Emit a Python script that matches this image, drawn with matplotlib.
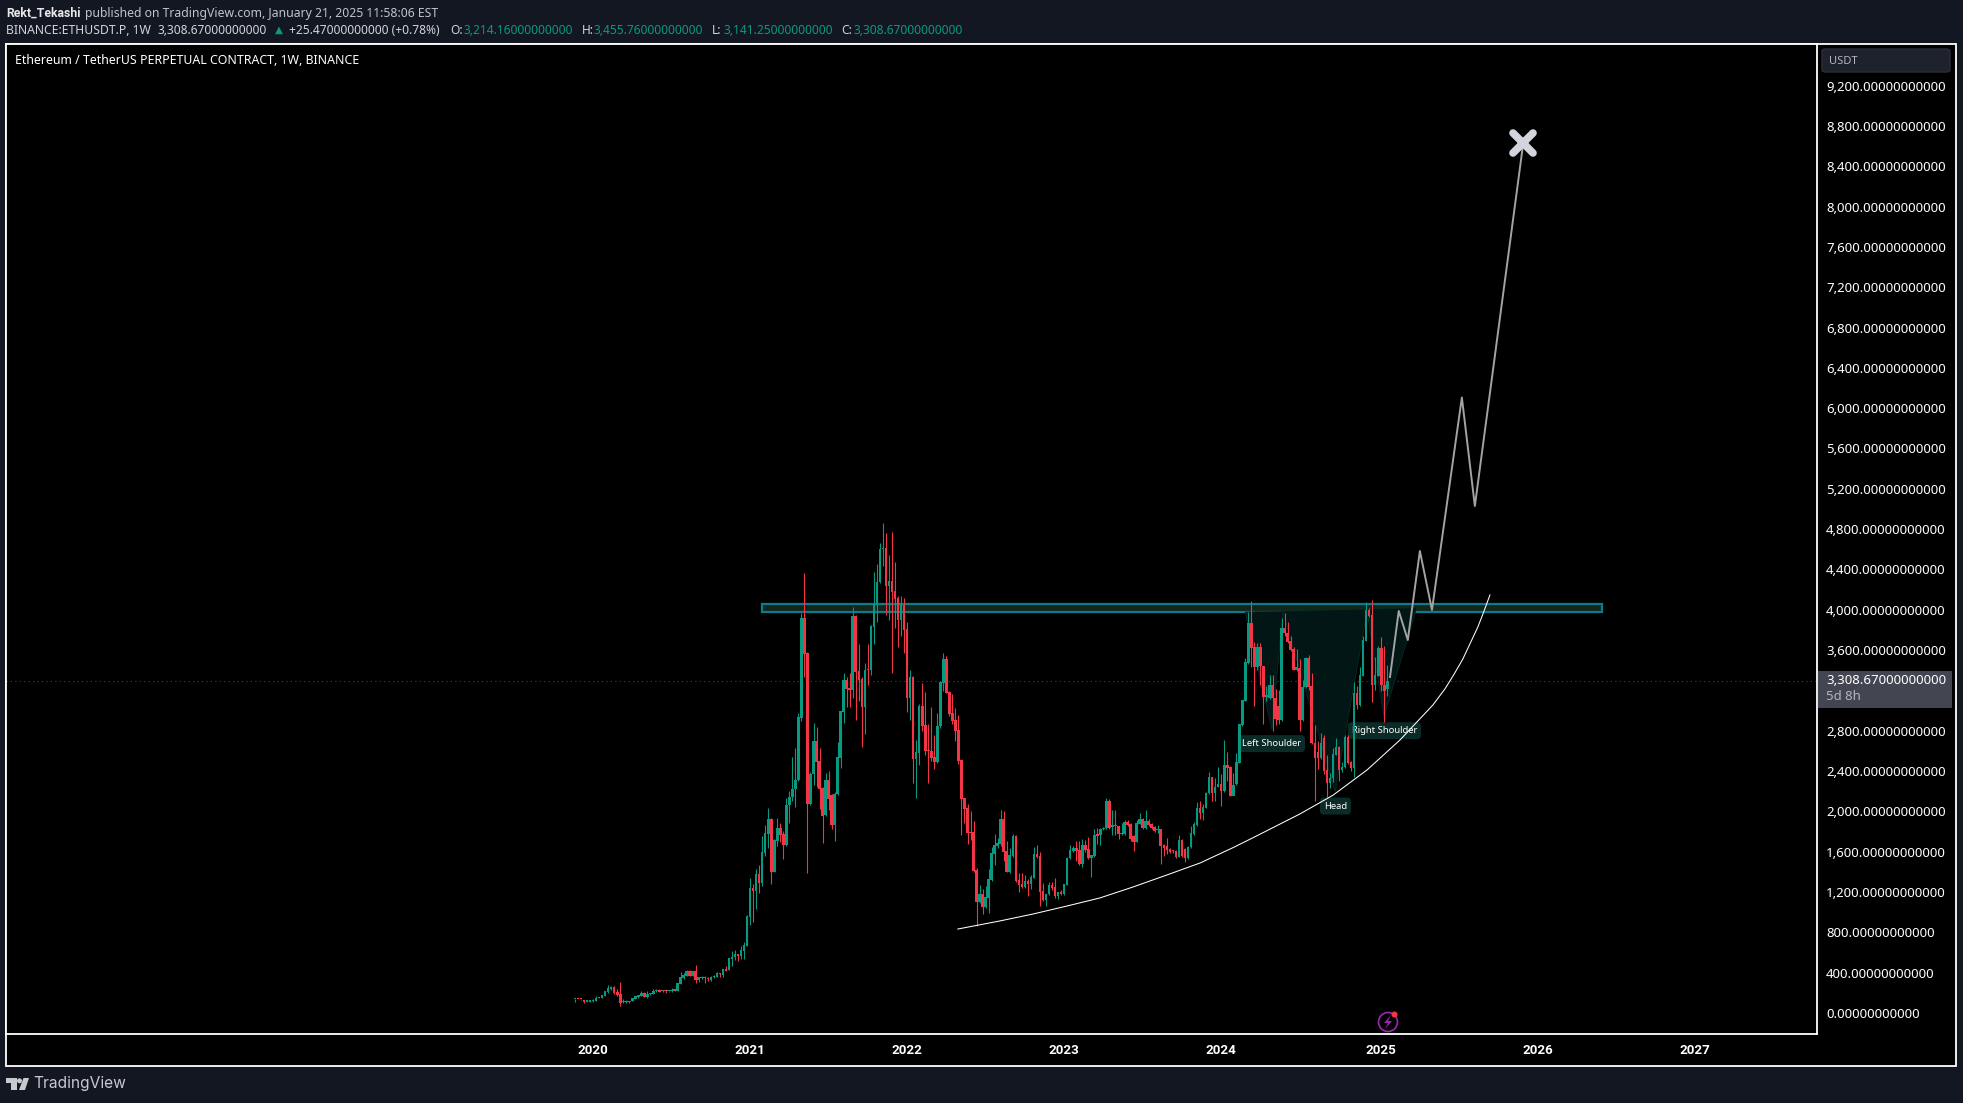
import numpy as np
import matplotlib
matplotlib.use("Agg")
import matplotlib.pyplot as plt
from matplotlib.markers import MarkerStyle
from matplotlib.patches import Rectangle, FancyBboxPatch, Ellipse, Polygon

W, H = 1963, 1103
BG = "#131722"
UP = "#089981"
DOWN = "#f23645"
FONT = ["Noto Sans", "DejaVu Sans"]
FONT_BOLD = ["Roboto", "DejaVu Sans"]

# weekly candles, values
opens = [135, 136, 135, 128, 112, 113, 115, 118, 150, 152, 171, 205, 237, 257, 211, 188, 105, 106, 105, 118,
         142, 155, 168, 198, 158, 190, 188, 218, 231, 215, 225, 214, 214, 228, 218, 287, 347, 370, 416, 370,
         416, 327, 350, 352, 347, 327, 355, 360, 396, 376, 433, 429, 540, 555, 585, 568, 618, 668, 955, 1240,
         1210, 1379, 1293, 1587, 1776, 1924, 1402, 1706, 1835, 1776, 1666, 2063, 2143, 2222, 2311, 2926, 3918, 3571, 2073, 2371,
         2698, 2500, 2232, 1960, 2311, 2162, 1865, 2172, 2530, 2986, 3303, 3224, 3204, 3938, 3389, 3313, 3036, 3403, 3400, 3829,
         4047, 4276, 4603, 4613, 4236, 4286, 4186, 4117, 3899, 4047, 3806, 3125, 3333, 2520, 2579, 3046, 2857, 2609, 2599, 2540,
         2490, 2847, 3274, 3512, 3184, 2976, 2907, 2807, 2510, 2133, 2034, 1796, 1796, 1419, 1101, 1180, 1051, 1141, 1319, 1577,
         1657, 1676, 1924, 1607, 1399, 1557, 1756, 1319, 1280, 1250, 1309, 1280, 1339, 1577, 1558, 1210, 1121, 1177, 1267, 1247,
         1161, 1200, 1181, 1270, 1533, 1610, 1637, 1617, 1478, 1667, 1627, 1538, 1557, 1766, 1766, 1825, 1835, 2107, 1848, 1852,
         1855, 1776, 1776, 1890, 1875, 1760, 1700, 1875, 1921, 1835, 1905, 1875, 1848, 1815, 1825, 1670, 1657, 1624, 1610, 1610,
         1551, 1716, 1630, 1538, 1643, 1776, 1868, 2037, 1987, 2034, 2179, 2338, 2179, 2245, 2272, 2199, 2460, 2444, 2153, 2275,
         2484, 2857, 3099, 3469, 3866, 3628, 3429, 3628, 3443, 3138, 3122, 3257, 3122, 3046, 2907, 3816, 3773, 3694, 3611, 3400,
         3425, 2907, 3231, 3519, 3244, 2682, 2592, 2533, 2731, 2411, 2278, 2335, 2560, 2640, 2411, 2444, 2742, 2494, 2428, 3172,
         3056, 3343, 3694, 3998, 3949, 3254, 3343, 3618, 3254, 3214]
highs = [138, 137, 136, 130, 128, 128, 138, 168, 158, 176, 220, 277, 267, 267, 234, 307, 138, 128, 120, 150,
         170, 180, 218, 205, 215, 200, 240, 235, 240, 225, 240, 222, 245, 232, 300, 406, 400, 430, 430, 420,
         476, 345, 372, 366, 360, 365, 375, 405, 400, 440, 470, 545, 615, 625, 590, 660, 704, 975, 1339, 1279,
         1428, 1468, 1756, 1865, 2033, 1930, 1726, 1934, 1885, 1805, 2133, 2202, 2540, 2629, 2973, 3971, 4365, 3580, 2390, 2877,
         2837, 2629, 2240, 2381, 2401, 2170, 2190, 2688, 3000, 3370, 3336, 3370, 4028, 3950, 3660, 3336, 3469, 3660, 3850, 4375,
         4454, 4663, 4861, 4762, 4544, 4772, 4474, 4137, 4137, 4117, 3879, 3403, 3340, 2708, 3065, 3274, 3184, 2867, 3036, 2758,
         2976, 3290, 3571, 3542, 3195, 3165, 3025, 2956, 2520, 2135, 2073, 2004, 1905, 1438, 1270, 1230, 1260, 1428, 1647, 1776,
         1736, 2014, 2004, 1706, 1637, 1776, 1766, 1385, 1389, 1369, 1329, 1369, 1647, 1667, 1600, 1286, 1180, 1300, 1300, 1339,
         1205, 1220, 1280, 1545, 1667, 1657, 1706, 1706, 1723, 1716, 1750, 1570, 1830, 1840, 1835, 1845, 2137, 2120, 2014, 2014,
         1860, 1880, 1915, 1912, 1880, 1770, 1915, 1980, 1930, 2014, 1921, 1880, 1860, 1865, 1830, 1680, 1733, 1640, 1615, 1615,
         1766, 1725, 1640, 1655, 1860, 1898, 2093, 2107, 2075, 2196, 2391, 2345, 2328, 2437, 2371, 2708, 2592, 2450, 2378, 2583,
         2870, 3105, 3519, 3981, 4091, 3684, 3674, 3668, 3445, 3240, 3354, 3354, 3211, 3205, 3920, 3965, 3882, 3740, 3630, 3610,
         3509, 3304, 3530, 3552, 3370, 2857, 2700, 2775, 2758, 2560, 2380, 2625, 2725, 2650, 2490, 2760, 2758, 2500, 3280, 3240,
         3430, 3740, 4081, 4020, 4097, 3535, 3640, 3734, 3640, 3455]
lows = [112, 134, 133, 99, 108, 110, 110, 115, 145, 150, 168, 200, 225, 190, 170, 69, 100, 100, 100, 115,
        135, 150, 165, 155, 150, 180, 185, 210, 205, 208, 200, 208, 210, 220, 215, 285, 340, 365, 365, 365,
        300, 310, 335, 300, 320, 320, 345, 355, 360, 360, 415, 425, 470, 530, 515, 540, 540, 665, 873, 906,
        1032, 1193, 1263, 1561, 1633, 1280, 1395, 1660, 1700, 1527, 1660, 1888, 2100, 2047, 2300, 2900, 3336, 1389, 2063, 2262,
        2238, 2024, 1686, 1950, 2014, 1825, 1706, 2160, 2430, 2874, 3040, 3040, 3121, 2907, 3095, 2639, 2768, 3254, 3353, 3660,
        3875, 4270, 4434, 3948, 3899, 3373, 3819, 3631, 3740, 3571, 2986, 2907, 2282, 2133, 2460, 2800, 2559, 2282, 2500, 2420,
        2480, 2827, 3194, 3170, 2950, 2867, 2698, 2470, 1766, 1885, 1676, 1716, 1400, 863, 1095, 982, 1040, 992, 1310, 1468,
        1640, 1660, 1508, 1395, 1390, 1550, 1300, 1200, 1240, 1240, 1160, 1230, 1335, 1540, 1062, 1115, 1065, 1170, 1225, 1141,
        1128, 1175, 1175, 1265, 1530, 1600, 1511, 1468, 1445, 1600, 1530, 1350, 1550, 1680, 1667, 1815, 1830, 1825, 1765, 1765,
        1726, 1770, 1770, 1855, 1710, 1607, 1695, 1870, 1830, 1830, 1860, 1825, 1795, 1790, 1478, 1558, 1580, 1590, 1590, 1540,
        1545, 1550, 1500, 1530, 1640, 1770, 1860, 1928, 1915, 2030, 2175, 2103, 2100, 2240, 2054, 2190, 2300, 2150, 2229, 2262,
        2480, 2850, 3095, 3460, 3429, 3046, 3400, 3250, 2867, 3100, 3110, 2798, 2857, 2870, 2900, 3740, 3670, 3590, 3400, 3395,
        2801, 2895, 3225, 3200, 2668, 2107, 2420, 2520, 2375, 2146, 2230, 2290, 2555, 2300, 2390, 2430, 2470, 2400, 2340, 3020,
        3050, 3340, 3690, 3930, 3089, 3200, 3340, 3190, 2890, 3141]
closes = [136, 135, 134, 112, 115, 118, 122, 145, 155, 175, 218, 247, 257, 198, 178, 102, 108, 110, 122, 145,
          168, 178, 198, 158, 188, 192, 218, 225, 211, 220, 221, 216, 228, 222, 297, 357, 376, 416, 370, 416,
          327, 353, 354, 347, 340, 356, 360, 396, 388, 433, 420, 545, 560, 585, 565, 625, 674, 962, 1240, 1210,
          1379, 1293, 1597, 1786, 1924, 1402, 1716, 1835, 1766, 1666, 2063, 2143, 2222, 2311, 2936, 3918, 3561, 2073, 2371, 2698,
          2493, 2222, 1954, 2311, 2123, 1865, 2172, 2540, 2996, 3303, 3214, 3204, 3938, 3383, 3303, 3036, 3403, 3400, 3839, 4057,
          4276, 4603, 4613, 4236, 4286, 4177, 4107, 3899, 4064, 3800, 3125, 3333, 2520, 2589, 3046, 2847, 2599, 2599, 2530, 2490,
          2847, 3284, 3512, 3175, 2966, 2897, 2798, 2500, 2123, 2024, 1786, 1786, 1409, 1101, 1180, 1051, 1151, 1329, 1587, 1667,
          1686, 1924, 1597, 1399, 1567, 1756, 1309, 1270, 1250, 1309, 1280, 1349, 1577, 1548, 1204, 1121, 1177, 1267, 1237, 1161,
          1200, 1181, 1277, 1538, 1617, 1637, 1610, 1478, 1667, 1617, 1538, 1564, 1766, 1760, 1825, 1832, 2107, 1832, 1852, 1855,
          1776, 1780, 1890, 1865, 1726, 1700, 1882, 1921, 1835, 1905, 1868, 1832, 1802, 1825, 1657, 1637, 1617, 1597, 1608, 1551,
          1716, 1558, 1538, 1650, 1782, 1875, 2037, 1987, 2040, 2180, 2341, 2179, 2245, 2272, 2199, 2460, 2430, 2153, 2262, 2493,
          2867, 3105, 3479, 3866, 3621, 3429, 3628, 3443, 3138, 3140, 3257, 3122, 2913, 2907, 3816, 3767, 3684, 3601, 3403, 3430,
          2907, 3238, 3519, 3238, 2682, 2533, 2533, 2682, 2404, 2278, 2330, 2570, 2640, 2411, 2444, 2742, 2484, 2428, 3172, 3056,
          3353, 3700, 3998, 3942, 3254, 3353, 3618, 3254, 3198, 3290]

# annotations, in (week index, price)
zone_weeks = [62, 340]
zone_prices = [3978, 4057]
arc_weeks = [126.8, 140.7, 151.7, 162.9, 173.8, 184.8, 196.0, 207.0, 217.9, 224.5, 240.1, 251.0, 262.3, 273.2, 284.1, 288.1, 291.1, 294.0, 299.0, 300.7, 303.0]
arc_prices = [833, 913, 982, 1061, 1141, 1250, 1369, 1488, 1640, 1738, 1975, 2160, 2411, 2708, 3055, 3215, 3360, 3510, 3830, 3960, 4147]
hs_weeks = [221.9, 230.8, 234.4, 251.7, 262.3, 267.9, 278.8]
hs_prices = [3978, 2810, 3978, 2195, 3978, 2940, 4020]
path_weeks = [269.9, 272.8, 275.8, 279.8, 283.8, 293.7, 298.0, 313.9]
path_prices = [3333, 3988, 3700, 4583, 3998, 6106, 5029, 8601]
target_week = 313.9
target_price = 8630
labels = ["Left Shoulder", "Head", "Right Shoulder"]
label_weeks = [220.9, 248.0, 257.2]
label_prices = [2672, 2053, 2800]
last_price = 3290

year_labels = ["2020", "2021", "2022", "2023", "2024", "2025", "2026", "2027"]
year_weeks = [6, 58, 110, 162, 214, 267, 319, 371]
price_ticks = [0, 400, 800, 1200, 1600, 2000, 2400, 2800, 3600, 4000, 4400, 4800, 5200,
               5600, 6000, 6400, 6800, 7200, 7600, 8000, 8400, 8800, 9200]


def fx(px):
    return px / W


def fy(py):
    return 1 - py / H


def fig_text(px, py, s, color="#d1d4dc", size=8.8, family=FONT, **kw):
    fig.text(fx(px), fy(py), s, color=color, fontsize=size, family=family, va="center", **kw)


def px_box(x0, y0, x1, y1, **kw):
    fig.add_artist(Rectangle((fx(x0), fy(y1)), (x1 - x0) / W, (y1 - y0) / H,
                             transform=fig.transFigure, **kw))


def px_poly(pts, **kw):
    fig.add_artist(Polygon([(fx(a), fy(b)) for a, b in pts], closed=True,
                           transform=fig.transFigure, edgecolor="none", **kw))


def px_circle(cx, cy, r, **kw):
    fig.add_artist(Ellipse((fx(cx), fy(cy)), 2 * r / W, 2 * r / H, transform=fig.transFigure, **kw))


fig = plt.figure(figsize=(W / 100, H / 100), dpi=100, facecolor=BG)

px_box(6, 44, 1956, 1066, facecolor="black", edgecolor="white", linewidth=1.3, zorder=0)

ax = fig.add_axes([fx(6), fy(1034), (1817 - 6) / W, (1034 - 44) / H], facecolor="black")
ax.set_xlim(-188.4, 411.3)
ax.set_ylim((1013 - 1034) * 9.92, (1013 - 44) * 9.92)
for s in ax.spines.values():
    s.set_color("white")
    s.set_linewidth(1.3)

ax.set_xticks(year_weeks)
ax.set_xticklabels(year_labels, color="white", fontsize=9.6, family=FONT_BOLD, fontweight="bold")
ax.set_yticks(price_ticks)
ax.set_yticklabels([f"{p:,.11f}" for p in price_ticks], color="white", fontsize=9.5, family=FONT)
ax.yaxis.tick_right()
ax.tick_params(axis="both", length=0)
ax.tick_params(axis="x", pad=7)
ax.tick_params(axis="y", pad=6.5)

# last price dotted line
ax.axhline(last_price, color="#3a4a46", linewidth=0.8, linestyle=(0, (1, 3)), zorder=1)

# resistance zone
ax.add_patch(Rectangle((zone_weeks[0], zone_prices[0]), zone_weeks[1] - zone_weeks[0],
                       zone_prices[1] - zone_prices[0], facecolor="#12261a", edgecolor="#0a7c8c",
                       linewidth=1.6, zorder=2))
# pattern shading
ax.add_patch(Polygon(list(zip(hs_weeks, hs_prices)), closed=True, facecolor="#021715",
                     edgecolor="#05302b", linewidth=0.5, zorder=2))

# pattern labels go under the candles
for text, wk, pr in zip(labels, label_weeks, label_prices):
    ax.text(wk, pr, text, color="white", fontsize=6.8, family=FONT, ha="left", va="center", zorder=3,
            bbox=dict(boxstyle="round,pad=0.42", facecolor="#0a2b28", edgecolor="none"))

# candles
weeks = np.arange(len(closes))
o, h, l, c = map(np.array, (opens, highs, lows, closes))
colors = np.where(c >= o, UP, DOWN)
ax.vlines(weeks, l, h, colors=colors, linewidth=0.8, zorder=4)
body = np.abs(c - o)
body = np.where(body < 12, 12, body)
ax.bar(weeks, body, bottom=np.minimum(o, c), width=0.86, color=colors, linewidth=0, zorder=5)

# arc and forecast path
ax.plot(arc_weeks, arc_prices, color="white", linewidth=0.75, zorder=6)
ax.plot(path_weeks, path_prices, color="#a3a3a3", linewidth=1.4, zorder=6)
ax.plot(target_week, target_price, marker=MarkerStyle("x", capstyle="round"), markersize=15,
        markeredgewidth=5.5, color="#d1d4dc", zorder=7)

# price scale extras
fig.add_artist(FancyBboxPatch((fx(1822), fy(72)), (1950 - 1822) / W, (72 - 49) / H,
                              boxstyle="round,pad=0,rounding_size=0.002", transform=fig.transFigure,
                              facecolor="#1e222d", edgecolor="#2a2e39", linewidth=1, zorder=5))
fig_text(1829, 61, "USDT", color="#b2b5be", size=8, zorder=6)
px_box(1818, 671, 1952, 708, facecolor="#434651", edgecolor="none", zorder=5)
fig_text(1826, 681, "3,308.67000000000", color="white", size=9.5, zorder=6)
fig_text(1826, 697, "5d 8h", color="#b2b5be", size=9.5, zorder=6)

# header
fig_text(6, 13, "Rekt_Tekashi", color="#e8e8ea", family=FONT_BOLD, fontweight="bold")
fig_text(85, 13, "published on TradingView.com, January 21, 2025 11:58:06 EST", color="#c0c3cb")
fig_text(6, 30, "BINANCE:ETHUSDT.P, 1W")
fig_text(158, 30, "3,308.67000000000", size=8.6)
fig_text(275, 30, "▲", color=UP, size=7.5)
fig_text(289, 30, "+25.47000000000 (+0.78%)", size=8.6)
for lab, lx, val, vx in [("O:", 450, "3,214.16000000000", 464), ("H:", 582, "3,455.76000000000", 594),
                         ("L:", 712, "3,141.25000000000", 723), ("C:", 841, "3,308.67000000000", 853)]:
    fig_text(lx, 30, lab, size=8.6)
    fig_text(vx, 30, val, color=UP, size=8.6)
fig_text(15, 60.5, "Ethereum / TetherUS PERPETUAL CONTRACT, 1W, BINANCE", color="white", size=8.9)

# TradingView logo
logo = "#c8cad0"
px_poly([(6, 1078), (16.7, 1078), (16.7, 1090), (11, 1090), (11, 1083), (6, 1083)], facecolor=logo)
px_poly([(23.5, 1078), (29, 1078), (25, 1090), (19, 1090)], facecolor=logo)
px_circle(19.5, 1080.8, 2.5, facecolor=logo, edgecolor="none")
fig_text(33.5, 1083.5, "TradingView", color=logo, size=11.2, family=["Inter", "DejaVu Sans"])

# lightning icon
px_circle(1388, 1022, 9.5, facecolor="none", edgecolor="#9c27b0", linewidth=1.2, zorder=6)
px_poly([(1391, 1015), (1384, 1023), (1388, 1023), (1385, 1029), (1392, 1021), (1388, 1021)],
        facecolor="#9c27b0", zorder=6)
px_circle(1394.5, 1014.5, 3, facecolor=DOWN, edgecolor="none", zorder=7)

fig.savefig("out.png", dpi=100, facecolor=BG)
